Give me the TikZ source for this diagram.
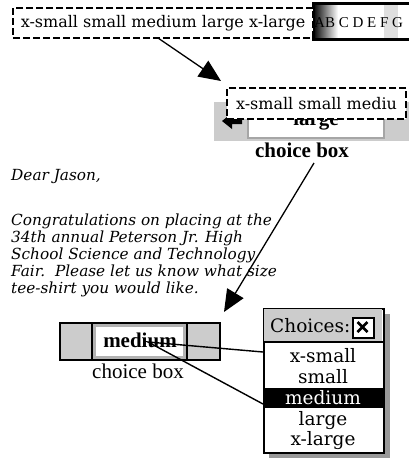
\documentclass[tikz,border=0pt]{standalone}
\usepackage{fontspec}
\setmainfont{Liberation Serif}
\newfontfamily\slab{DejaVu Serif}
\usetikzlibrary{arrows.meta}
\begin{document}
\begin{tikzpicture}[x=1pt,y=-1pt,
  dbox/.style={draw,line width=2pt,dash pattern=on 7pt off 3pt,fill=white,inner sep=0pt,anchor=north west,font=\slab\fontsize{16}{16}\selectfont},
  bigarrow/.style={line width=1.3pt,-{Triangle[length=22pt,width=19pt]}},
  uibtn/.style={fill=gray!40},
  lettertxt/.style={anchor=base west,inner sep=0pt,font=\slab\itshape\fontsize{15.3}{17}\selectfont},
  boldlbl/.style={anchor=base,inner sep=0pt,font=\bfseries\fontsize{21}{21}\selectfont},
  reglbl/.style={anchor=base,inner sep=0pt,font=\fontsize{21}{21}\selectfont},
  item/.style={anchor=base,inner sep=0pt,font=\slab\fontsize{18.5}{18.5}\selectfont},
  callout/.style={line width=1.4pt}]
\useasboundingbox (0,0) rectangle (409,458);

% ---------- top: text strip with letters ----------
\fill[white] (312,3) rectangle (409,40);
\shade[left color=black,right color=white] (313,3) rectangle (338,40);
\fill[gray!25] (384,3) rectangle (398,40);
\node[anchor=base west,inner sep=0pt,font=\fontsize{15}{15}\selectfont] (abc) at (314,27) {AB C D E F G};
\draw[line width=3pt] (409,3.5) -- (313.5,3.5) -- (313.5,39.5) -- (409,39.5);
\node[dbox,minimum width=300pt,minimum height=30pt] (src) at (12,7) {x-small small medium large x-large};

% ---------- arrow 1 ----------
\coordinate (a1s) at (158,38);
\coordinate (a1e) at (221,81);
\draw[bigarrow] (a1s) -- (a1e);

% ---------- top choice box ----------
\fill[uibtn] (214,102) rectangle (409,141);
\fill[white] (247,104) rectangle (385,139);
\draw[gray!70,line width=2pt] (248,105) rectangle (384,138);
\node[boldlbl] (large) at (316,125) {large};
\fill[black] (222,121) -- (232,113) -- (232,118) -- (242,118) -- (242,124) -- (232,124) -- (232,129) -- cycle;
\node[dbox,minimum width=179pt,minimum height=31pt] (dst) at (226,87) {x-small small mediu};
\node[boldlbl] (lbl1) at (302,157) {choice box};

% ---------- arrow 2 ----------
\coordinate (a2s) at (314,163);
\coordinate (a2e) at (224,312);
\draw[bigarrow] (a2s) -- (a2e);

% ---------- letter ----------
\node[lettertxt] (l0) at (11,180) {Dear Jason,};
\node[lettertxt] (l1) at (11,225) {Congratulations on placing at the};
\node[lettertxt] (l2) at (11,242) {34th annual Peterson Jr. High};
\node[lettertxt] (l3) at (11,259) {School Science and Technology};
\node[lettertxt] (l4) at (11,276) {Fair.\ \ Please let us know what size};
\node[lettertxt] (l5) at (11,293) {tee-shirt you would like.};

% ---------- bottom choice box ----------
\fill[uibtn] (60,323) rectangle (92,360);
\fill[uibtn] (187,323) rectangle (220,360);
\fill[white] (92,323) rectangle (187,360);
\draw[gray!60,line width=2.5pt] (94.5,325.5) rectangle (184.5,357.5);
\draw[line width=1.3pt] (60,323) rectangle (220,360);
\draw[line width=1.3pt] (92,323) -- (92,360) (187,323) -- (187,360);
\node[boldlbl] (med) at (140,347) {medium};
\node[reglbl] (lbl2) at (138,378) {choice box};

% ---------- popup ----------
\fill[gray!80] (269,314) rectangle (390,458);
\node[draw,fill=white,line width=1.5pt,inner sep=0pt,minimum width=120pt,minimum height=144pt,anchor=north west] (popup) at (263,308) {};
\fill[gray!40] (263.8,308.8) rectangle (382.2,342);
\draw[line width=1.5pt] (263,342) -- (383,342);
\node[anchor=base west,inner sep=0pt,font=\slab\fontsize{18.5}{18.5}\selectfont] (title) at (270,332) {Choices:};
\node[draw,fill=white,line width=1.5pt,inner sep=0pt,minimum width=21pt,minimum height=20pt,anchor=north west] (close) at (352,317) {};
\draw[line width=2.8pt] (357.5,322) -- (367.5,332) (357.5,332) -- (367.5,322);
\fill[black] (263,388) rectangle (383,408);
\node[item] (i1) at (323,362) {x-small};
\node[item] (i2) at (323,383) {small};
\node[item,text=white] (i3) at (323,404) {medium};
\node[item] (i4) at (323,425) {large};
\node[item] (i5) at (323,445) {x-large};

% ---------- callout lines ----------
\coordinate (ptr) at (148,342);
\coordinate (pA) at (263,352);
\coordinate (pB) at (263,404);
\draw[callout] (pA) -- (ptr) -- (pB);
\end{tikzpicture}
\end{document}
